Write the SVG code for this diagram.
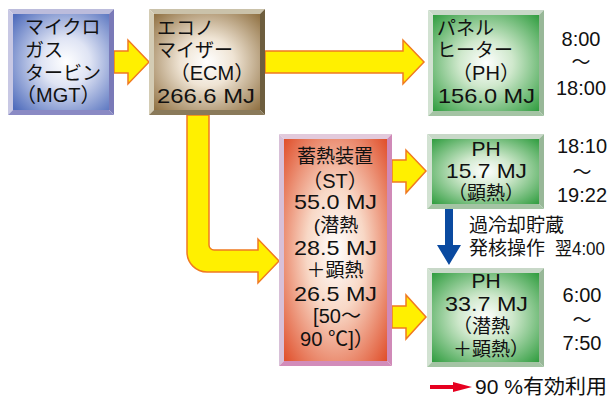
<svg xmlns="http://www.w3.org/2000/svg" width="610" height="397" viewBox="0 0 610 397">
<defs>
<radialGradient id="gBlue" cx="0.55" cy="0.5" r="0.72"><stop offset="0" stop-color="#ffffff"/><stop offset="0.35" stop-color="#dfe4f4"/><stop offset="1" stop-color="#4f6cbc"/></radialGradient>
<radialGradient id="gBrown" cx="0.5" cy="0.5" r="0.72"><stop offset="0" stop-color="#ffffff"/><stop offset="0.35" stop-color="#efe4d4"/><stop offset="1" stop-color="#8c6c3c"/></radialGradient>
<radialGradient id="gGreen" cx="0.5" cy="0.5" r="0.72"><stop offset="0" stop-color="#ffffff"/><stop offset="0.35" stop-color="#cfe8cc"/><stop offset="1" stop-color="#2a9a3a"/></radialGradient>
<radialGradient id="gRed" cx="0.5" cy="0.5" r="0.7"><stop offset="0" stop-color="#ffffff"/><stop offset="0.4" stop-color="#f8d8c6"/><stop offset="1" stop-color="#e0502c"/></radialGradient>
</defs>
<style>
text{font-family:"Liberation Sans","Noto Sans CJK JP",sans-serif;fill:#111;font-size:19px}
.lat{font-size:21px}
.tm{font-size:20px}
.c{text-anchor:middle}
.arr{fill:#fff000;stroke:#f07a20;stroke-width:1.5;stroke-linejoin:miter}
</style>

<g id="connectors">
<polygon class="arr" points="114,51 128,51 128,40 149,62 128,84 128,73 114,73"/>
<polygon class="arr" points="265,51 403,51 403,40 424,62 403,84 403,73 265,73"/>
<path class="arr" d="M187,115 V252 A20,20 0 0 0 207,272 H258 V283 L279,261 L258,239 V250 H214 A5,5 0 0 1 209,245 V115 Z"/>
<polygon class="arr" points="392,160 406,160 406,150 426,171 406,193 406,182 392,182"/>
<polygon class="arr" points="392,306 406,306 406,295 426,317 406,339 406,328 392,328"/>
<polygon fill="#0a4aa0" points="445,209 453,209 453,245 461,245 449,265 437,245 445,245"/>
<polygon fill="#e60020" points="430,385 453,385 453,382 472,387 453,392 453,389 430,389"/>
</g>

<g id="MGT">
<polygon fill="#bcbcdc" points="8,9 114,9 109,14 13,14"/>
<polygon fill="#c8c8e4" points="8,9 13,14 13,110 8,115"/>
<polygon fill="#7a7ab8" points="114,9 114,115 109,110 109,14"/>
<polygon fill="#8a8ac4" points="8,115 114,115 109,110 13,110"/>
<rect x="13" y="14" width="96" height="96" fill="url(#gBlue)"/>
<text x="25" y="34">マイクロ</text>
<text x="25" y="57">ガス</text>
<text x="25" y="80">タービン</text>
<text x="16" y="102" style="font-size:20px">（MGT）</text>
</g>

<g id="ECM">
<polygon fill="#cac2aa" points="149,9 265,9 260,14 154,14"/>
<polygon fill="#d4ccb4" points="149,9 154,14 154,110 149,115"/>
<polygon fill="#6e5e3e" points="265,9 265,115 260,110 260,14"/>
<polygon fill="#8a7a5a" points="149,115 265,115 260,110 154,110"/>
<rect x="154" y="14" width="106" height="96" fill="url(#gBrown)"/>
<text x="157" y="35">エコノ</text>
<text x="157" y="57">マイザー</text>
<text x="212" y="80" class="c" style="font-size:20px">（ECM）</text>
<text x="157" y="103" class="lat" textLength="98" lengthAdjust="spacingAndGlyphs">266.6 MJ</text>
</g>

<g id="PH1">
<polygon fill="#c8d8c8" points="428,10 544,10 539,15 433,15"/>
<polygon fill="#d2e2d2" points="428,10 433,15 433,111 428,116"/>
<polygon fill="#98b898" points="544,10 544,116 539,111 539,15"/>
<polygon fill="#a4c4a4" points="428,116 544,116 539,111 433,111"/>
<rect x="433" y="15" width="106" height="96" fill="url(#gGreen)"/>
<text x="437" y="35">パネル</text>
<text x="437" y="57">ヒーター</text>
<text x="486" y="80" class="c" style="font-size:20px">（PH）</text>
<text x="438" y="103" class="lat" textLength="97" lengthAdjust="spacingAndGlyphs">156.0 MJ</text>
</g>
<g id="t1">
<text x="581" y="46" class="c tm">8:00</text>
<text x="581" y="69" class="c">〜</text>
<text x="581" y="95" class="c tm">18:00</text>
</g>

<g id="ST">
<polygon fill="#e2cadc" points="279,134 392,134 387,139 284,139"/>
<polygon fill="#d8c0d8" points="279,134 284,139 284,361 279,366"/>
<polygon fill="#d08ab8" points="392,134 392,366 387,361 387,139"/>
<polygon fill="#d28cba" points="279,366 392,366 387,361 284,361"/>
<rect x="284" y="139" width="103" height="222" fill="url(#gRed)"/>
<text x="335" y="163" class="c">蓄熱装置</text>
<text x="335" y="188" class="c" style="font-size:20px">（ST）</text>
<text x="294" y="209" class="lat" textLength="83" lengthAdjust="spacingAndGlyphs">55.0 MJ</text>
<text x="336" y="232" class="c">(潜熱</text>
<text x="294" y="255" class="lat" textLength="83" lengthAdjust="spacingAndGlyphs">28.5 MJ</text>
<text x="335" y="277" class="c">＋顕熱</text>
<text x="294" y="301" class="lat" textLength="83" lengthAdjust="spacingAndGlyphs">26.5 MJ</text>
<text x="337" y="323" class="c" style="font-size:20px">[50〜</text>
<text x="300" y="346" style="font-size:20px" textLength="74" lengthAdjust="spacingAndGlyphs">90 ℃]）</text>
</g>

<g id="PH2">
<polygon fill="#c8d8c8" points="427,134 544,134 539,139 432,139"/>
<polygon fill="#d2e2d2" points="427,134 432,139 432,204 427,209"/>
<polygon fill="#98b898" points="544,134 544,209 539,204 539,139"/>
<polygon fill="#a4c4a4" points="427,209 544,209 539,204 432,204"/>
<rect x="432" y="139" width="107" height="65" fill="url(#gGreen)"/>
<text x="486" y="156" class="c lat">PH</text>
<text x="446" y="178" class="lat" textLength="81" lengthAdjust="spacingAndGlyphs">15.7 MJ</text>
<text x="486" y="200" class="c">（顕熱）</text>
</g>
<g id="t2">
<text x="582" y="153" class="c tm">18:10</text>
<text x="582" y="179" class="c">〜</text>
<text x="582" y="202" class="c tm">19:22</text>
</g>

<g id="note">
<text x="469" y="232">過冷却貯蔵</text>
<text x="469" y="255">発核操作</text>
<text x="555" y="255" style="font-size:18px" textLength="50" lengthAdjust="spacingAndGlyphs">翌4:00</text>
</g>

<g id="PH3">
<polygon fill="#c8d8c8" points="427,268 544,268 539,273 432,273"/>
<polygon fill="#d2e2d2" points="427,268 432,273 432,362 427,367"/>
<polygon fill="#98b898" points="544,268 544,367 539,362 539,273"/>
<polygon fill="#a4c4a4" points="427,367 544,367 539,362 432,362"/>
<rect x="432" y="273" width="107" height="89" fill="url(#gGreen)"/>
<text x="486" y="288" class="c lat">PH</text>
<text x="445" y="311" class="lat" textLength="83" lengthAdjust="spacingAndGlyphs">33.7 MJ</text>
<text x="453" y="333">（潜熱</text>
<text x="453" y="356">＋顕熱）</text>
</g>
<g id="t3">
<text x="582" y="302" class="c tm">6:00</text>
<text x="582" y="327" class="c">〜</text>
<text x="582" y="350" class="c tm">7:50</text>
</g>

<g id="legend">
<text x="475" y="394" style="font-size:20px" textLength="132" lengthAdjust="spacingAndGlyphs">90 %有効利用</text>
</g>
</svg>
